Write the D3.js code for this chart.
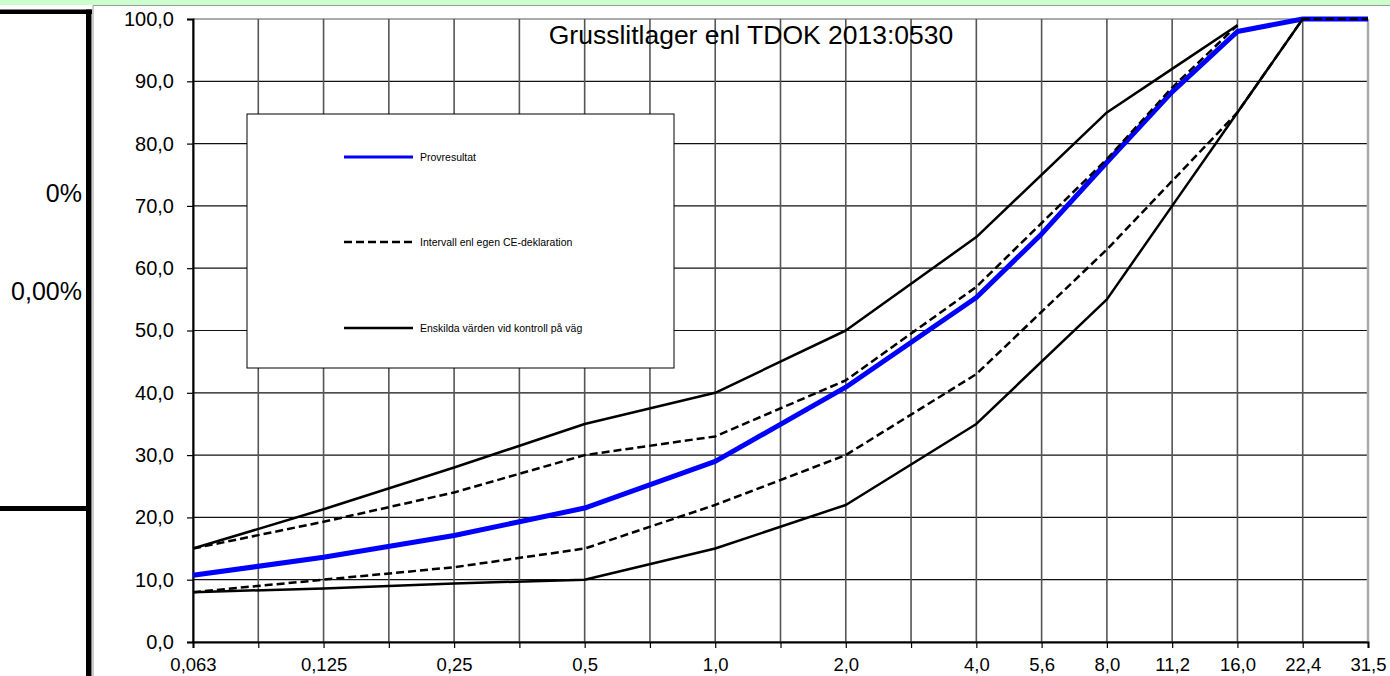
<!DOCTYPE html>
<html lang="sv">
<head>
<meta charset="utf-8" />
<title>Grusslitlager</title>
<script src="https://cdn.jsdelivr.net/npm/d3@7"></script>
<style>
    body { margin: 0; background: #fff; }
    svg text { font-family: "Liberation Sans", Arial, sans-serif; fill: #000; }
    .y-axis path, .x-axis path { stroke: #000; stroke-width: 2; }
    .y-axis line, .x-axis line { stroke: #000; stroke-width: 1.2; }
</style>
</head>
<body>
<script>

    // kategorier på x-axeln (tomma = omärkta siktar)
    let categories = ["0,063", "", "0,125", "", "0,25", "", "0,5", "", "1,0", "", "2,0", "", "4,0", "5,6", "8,0", "11,2", "16,0", "22,4", "31,5"];

    let provresultat = [10.7, null, 13.6, null, 17.1, null, 21.5, null, 29.0, null, 40.9, null, 55.3, 65.5, 77.0, 88.3, 98.0, 100, 100];
    let ceUpper = [15, null, 19.3, null, 24, null, 30, null, 33, null, 42, null, 57, null, 77.5, 89, 99, null, null];
    let ceLower = [8, null, 10, null, 12, null, 15, null, 22, null, 30, null, 43, null, 63, 74, 85, 100, 100];
    let roadUpper = [15, null, 21.3, null, 28, null, 35, null, 40, null, 50, null, 65, null, 85, 92, 99, null, null];
    let roadLower = [8, null, 8.6, null, 9.4, null, 10, null, 15, null, 22, null, 35, null, 55, 70, 85, 100, null];

    let yTicks = [0, 10, 20, 30, 40, 50, 60, 70, 80, 90, 100];

    let legendLabels = ["Provresultat", "Intervall enl egen CE-deklaration", "Enskilda värden vid kontroll på väg"];

    let W = 1390, H = 676;
    let margin = { top: 19, left: 193, right: 22, bottom: 34 };
    let width = W - margin.left - margin.right,
        height = H - margin.top - margin.bottom;

    let svg = d3.select('body').append('svg')
        .attr('width', W)
        .attr('height', H);

    // grön remsa överst
    svg.append('rect').attr('x', 0).attr('y', 0).attr('width', W).attr('height', 5).attr('fill', '#ccffcc');
    svg.append('line').attr('x1', 93).attr('x2', W).attr('y1', 5.5).attr('y2', 5.5).attr('stroke', '#999');
    svg.append('line').attr('x1', 93).attr('x2', 93).attr('y1', 5.5).attr('y2', H).attr('stroke', '#999');

    // svart ram till vänster
    svg.append('rect').attr('x', 0).attr('y', 9.5).attr('width', 92).attr('height', 4.5).attr('fill', '#000');
    svg.append('rect').attr('x', 86).attr('y', 9.5).attr('width', 5.5).attr('height', H - 9.5).attr('fill', '#000');
    svg.append('rect').attr('x', 0).attr('y', 506).attr('width', 90).attr('height', 5).attr('fill', '#000');

    svg.append('text').attr('x', 82).attr('y', 202).attr('text-anchor', 'end')
        .style('font-size', '25px').text('0%');
    svg.append('text').attr('x', 82).attr('y', 300).attr('text-anchor', 'end')
        .style('font-size', '25px').text('0,00%');

    let g = svg.append('g').attr('transform', `translate(${margin.left},${margin.top})`);

    let x = d3.scalePoint()
        .domain(d3.range(categories.length))
        .range([0, width]);

    let y = d3.scaleLinear()
        .domain([0, 100])
        .range([height, 0]);

    // rutnät
    g.selectAll('.hgrid')
        .data(yTicks)
        .enter().append('line')
        .attr('class', 'hgrid')
        .attr('x1', 0).attr('x2', width)
        .attr('y1', d => y(d)).attr('y2', d => y(d))
        .attr('stroke', d => d == 100 ? '#aaa' : '#111')
        .attr('stroke-width', d => d == 100 ? 2 : 1.2);

    g.selectAll('.vgrid')
        .data(d3.range(categories.length))
        .enter().append('line')
        .attr('class', 'vgrid')
        .attr('x1', d => x(d)).attr('x2', d => x(d))
        .attr('y1', 0).attr('y2', height)
        .attr('stroke', d => d == categories.length - 1 ? '#aaa' : '#555')
        .attr('stroke-width', d => d == categories.length - 1 ? 2.5 : 1.6);

    // axlar
    g.append('g')
        .attr('class', 'y-axis')
        .call(d3.axisLeft(y).tickValues(yTicks).tickSize(6).tickPadding(13)
            .tickFormat(d => d.toFixed(1).replace('.', ',')))
        .selectAll('text').style('font-size', '20px');

    g.append('g')
        .attr('class', 'x-axis')
        .attr('transform', `translate(0,${height})`)
        .call(d3.axisBottom(x).tickSize(6).tickPadding(10).tickFormat(i => categories[i]))
        .selectAll('text').style('font-size', '18.5px');

    // legend
    let legend = svg.append('g');
    legend.append('rect')
        .attr('x', 247).attr('y', 114)
        .attr('width', 427).attr('height', 254)
        .attr('fill', '#fff').attr('stroke', '#000').attr('stroke-width', 1);

    // linjer
    let line = d3.line()
        .x(d => x(d.i))
        .y(d => y(d.v));

    let toPoints = arr => arr.map((v, i) => ({ i: i, v: v })).filter(d => d.v != null);

    let series = [
        { values: provresultat, color: '#0000ff', w: 5, dash: null },
        { values: ceUpper, color: '#000', w: 2.5, dash: '8,4' },
        { values: ceLower, color: '#000', w: 2.5, dash: '8,4' },
        { values: roadUpper, color: '#000', w: 2.5, dash: null },
        { values: roadLower, color: '#000', w: 2.5, dash: null }
    ];

    g.selectAll('.series')
        .data(series)
        .enter().append('path')
        .attr('class', 'series')
        .attr('d', d => line(toPoints(d.values)))
        .attr('fill', 'none')
        .attr('stroke', d => d.color)
        .attr('stroke-width', d => d.w)
        .attr('stroke-dasharray', d => d.dash)
        .attr('stroke-linejoin', 'round');

    let legendStyles = [series[0], series[1], series[3]];
    let legendY = [157, 242, 328];

    legendLabels.forEach((label, i) => {
        legend.append('line')
            .attr('x1', 344).attr('x2', 413)
            .attr('y1', legendY[i]).attr('y2', legendY[i])
            .attr('stroke', legendStyles[i].color)
            .attr('stroke-width', i == 0 ? 3 : 2.5)
            .attr('stroke-dasharray', legendStyles[i].dash);
        legend.append('text')
            .attr('x', 420).attr('y', legendY[i] + 4)
            .style('font-size', '10.5px')
            .text(label);
    });

    // titel
    svg.append('text')
        .attr('x', 751).attr('y', 44)
        .attr('text-anchor', 'middle')
        .style('font-size', '26.5px')
        .text('Grusslitlager enl TDOK 2013:0530');

</script>
</body>
</html>
